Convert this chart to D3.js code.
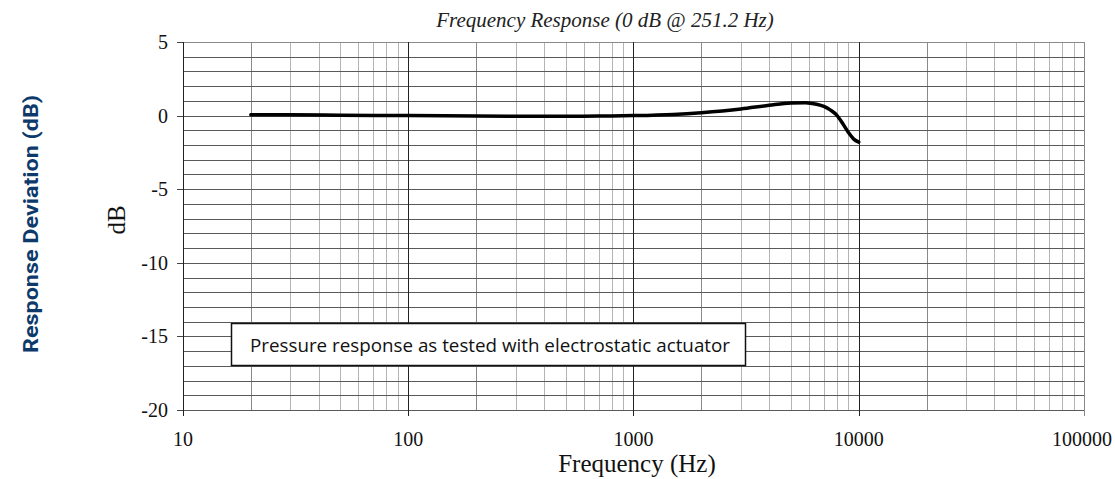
<!DOCTYPE html>
<html>
<head>
<meta charset="utf-8">
<script src="https://cdn.jsdelivr.net/npm/d3@7"></script>
<style>
body { margin: 0; background: #fff; }
</style>
</head>
<body>
<div id="chart"></div>
<script>
// frequency response curve
var freqHz = [20, 30, 50, 100, 200, 300, 500, 700, 1000, 1500, 2000, 3000, 4000, 5000, 5800, 6500, 7000, 7500, 8000, 8500, 9000, 9500, 10000];
var devDb  = [0.05, 0.05, 0.03, 0.0, -0.03, -0.05, -0.05, -0.03, 0.0, 0.08, 0.2, 0.45, 0.7, 0.86, 0.88, 0.77, 0.62, 0.37, 0.02, -0.55, -1.15, -1.6, -1.8];
var xTicks = [10, 100, 1000, 10000, 100000];
var yTicks = [5, 0, -5, -10, -15, -20];

var W = 1115, H = 479;
var margin = {top: 42, right: 31, bottom: 69, left: 183};
var width = W - margin.left - margin.right;
var height = H - margin.top - margin.bottom;

var svg = d3.select("#chart").append("svg")
    .attr("width", W)
    .attr("height", H);

var x = d3.scaleLog().domain([10, 100000]).range([margin.left, margin.left + width]);
var y = d3.scaleLinear().domain([-20, 5]).range([margin.top + height, margin.top]);

// minor vertical grid
var minor = [];
for (var dec = 10; dec < 100000; dec *= 10) {
    for (var k = 2; k <= 9; k++) minor.push(dec * k);
}
svg.append("g").selectAll("line")
    .data(minor)
    .enter().append("line")
    .attr("x1", function (d) { return Math.round(x(d)) + 0.5; })
    .attr("x2", function (d) { return Math.round(x(d)) + 0.5; })
    .attr("y1", y(5)).attr("y2", y(-20))
    .attr("stroke", function (d) { return String(d)[0] === "2" ? "#8a8a8a" : "#b4b4b4"; })
    .attr("stroke-width", 1);

// horizontal grid every 1 dB
svg.append("g").selectAll("line")
    .data(d3.range(-20, 6, 1))
    .enter().append("line")
    .attr("x1", x(10)).attr("x2", x(100000))
    .attr("y1", function (d) { return Math.round(y(d)) + 0.5; })
    .attr("y2", function (d) { return Math.round(y(d)) + 0.5; })
    .attr("stroke", function (d) { return d === 5 ? "#8a8a8a" : "#5a5a5a"; })
    .attr("stroke-width", 1);

// major vertical lines
svg.append("g").selectAll("line")
    .data(xTicks)
    .enter().append("line")
    .attr("x1", function (d) { return Math.round(x(d)) + 0.5; })
    .attr("x2", function (d) { return Math.round(x(d)) + 0.5; })
    .attr("y1", y(5)).attr("y2", y(-20) + 6)
    .attr("stroke", function (d) { return d === 100000 ? "#8a8a8a" : "#222"; })
    .attr("stroke-width", 1);

// y ticks
svg.append("g").selectAll("line")
    .data(yTicks)
    .enter().append("line")
    .attr("x1", x(10) - 6).attr("x2", x(10))
    .attr("y1", function (d) { return Math.round(y(d)) + 0.5; })
    .attr("y2", function (d) { return Math.round(y(d)) + 0.5; })
    .attr("stroke", "#444");

var serif = "'Liberation Serif', 'Times New Roman', serif";

svg.append("g").selectAll("text")
    .data(yTicks)
    .enter().append("text")
    .attr("x", x(10) - 15)
    .attr("y", function (d) { return y(d) + 7; })
    .attr("text-anchor", "end")
    .attr("font-family", serif)
    .attr("font-size", 20)
    .attr("fill", "#111")
    .text(function (d) { return d; });

svg.append("g").selectAll("text")
    .data(xTicks)
    .enter().append("text")
    .attr("x", function (d) { return x(d) + (d === 100000 ? -2 : 0); })
    .attr("y", y(-20) + 36)
    .attr("text-anchor", "middle")
    .attr("font-family", serif)
    .attr("font-size", 20)
    .attr("fill", "#111")
    .text(function (d) { return d; });

// title and axis labels
svg.append("text")
    .attr("x", 605).attr("y", 27)
    .attr("text-anchor", "middle")
    .attr("font-family", serif)
    .attr("font-style", "italic")
    .attr("font-size", 21)
    .attr("fill", "#222")
    .text("Frequency Response (0 dB @ 251.2 Hz)");

svg.append("text")
    .attr("x", 637).attr("y", 472)
    .attr("text-anchor", "middle")
    .attr("font-family", serif)
    .attr("font-size", 25)
    .attr("fill", "#111")
    .text("Frequency (Hz)");

svg.append("text")
    .attr("transform", "translate(125,220) rotate(-90)")
    .attr("text-anchor", "middle")
    .attr("font-family", serif)
    .attr("font-size", 25)
    .attr("fill", "#111")
    .text("dB");

svg.append("text")
    .attr("transform", "translate(38,224) rotate(-90)")
    .attr("text-anchor", "middle")
    .attr("font-family", "'Liberation Sans Narrow', 'Roboto', 'Liberation Sans', sans-serif")
    .attr("font-weight", "bold")
    .attr("font-size", 21)
    .attr("textLength", 258)
    .attr("lengthAdjust", "spacingAndGlyphs")
    .attr("fill", "#0d3a6b")
    .text("Response Deviation (dB)");

// annotation box
svg.append("rect")
    .attr("x", 231.5).attr("y", 323.5)
    .attr("width", 514).attr("height", 42)
    .attr("fill", "#fff")
    .attr("stroke", "#111")
    .attr("stroke-width", 1.5);

svg.append("text")
    .attr("x", 250).attr("y", 352)
    .attr("font-family", "'Open Sans', 'Noto Sans', sans-serif")
    .attr("font-size", 18.8)
    .attr("fill", "#111")
    .text("Pressure response as tested with electrostatic actuator");

// curve
var line = d3.line()
    .x(function (d) { return x(d[0]); })
    .y(function (d) { return y(d[1]); })
    .curve(d3.curveMonotoneX);

svg.append("path")
    .datum(d3.zip(freqHz, devDb))
    .attr("d", line)
    .attr("fill", "none")
    .attr("stroke", "#000")
    .attr("stroke-width", 3.5)
    .attr("stroke-linecap", "round");
</script>
</body>
</html>
